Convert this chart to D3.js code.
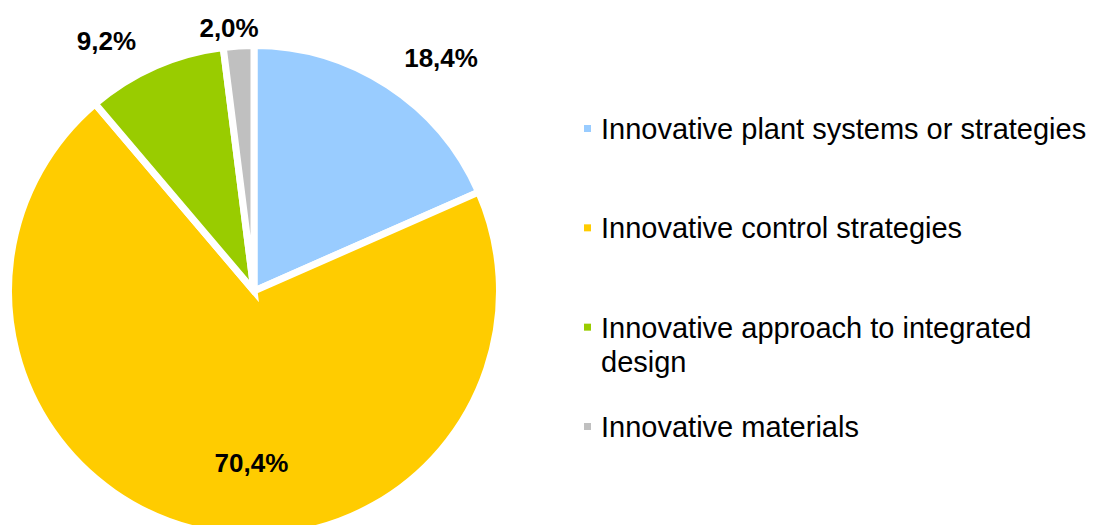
<!DOCTYPE html>
<html>
<head>
<meta charset="utf-8">
<script src="https://cdn.jsdelivr.net/npm/d3@7"></script>
<style>
  html, body { margin: 0; padding: 0; background: #fff; }
  svg { display: block; font-family: Arial, "Liberation Sans", sans-serif; }
</style>
</head>
<body>
<svg id="chart"></svg>
<script>
// Pie chart: share of innovation types

const categories = [
  "Innovative plant systems or strategies",
  "Innovative control strategies",
  "Innovative approach to integrated design",
  "Innovative materials"
];
const values = [18.4, 70.4, 9.2, 2.0];
const valueLabels = ["18,4%", "70,4%", "9,2%", "2,0%"];
const colors = ["#99ccff", "#ffcc00", "#99cc00", "#c0c0c0"];
// legend text split into lines (as wrapped in the original)
const legendLines = [
  ["Innovative plant systems or strategies"],
  ["Innovative control strategies"],
  ["Innovative approach to integrated", "design"],
  ["Innovative materials"]
];

const width = 1095, height = 525;
const cx = 254, cy = 291;
const radius = 245.5;
const gap = 7;

// label placement: distance from centre and angle nudge (deg) from slice mid angle
const labelRadius = [299, 172, 291, 265];
const labelNudge  = [5.6, -12.1, -6.7, -1.8];

const svg = d3.select("#chart")
  .attr("width", width)
  .attr("height", height)
  .attr("viewBox", `0 0 ${width} ${height}`);

const data = categories.map((name, i) => ({
  name, value: values[i], label: valueLabels[i], color: colors[i], i
}));

const pie = d3.pie()
  .sort(null)
  .value(d => d.value);

const arc = d3.arc()
  .innerRadius(0)
  .outerRadius(radius);

const g = svg.append("g")
  .attr("transform", `translate(${cx},${cy})`);

const arcs = pie(data);

g.selectAll("path")
  .data(arcs)
  .join("path")
  .attr("d", arc)
  .attr("fill", d => d.data.color)
  .attr("stroke", "#fff")
  .attr("stroke-width", gap)
  .attr("stroke-linejoin", "miter");

g.selectAll("text.val")
  .data(arcs)
  .join("text")
  .attr("class", "val")
  .attr("text-anchor", "middle")
  .attr("dy", "0.36em")
  .attr("font-size", 26)
  .attr("font-weight", "bold")
  .attr("fill", "#000")
  .attr("transform", d => {
    const a = (d.startAngle + d.endAngle) / 2 + labelNudge[d.data.i] * Math.PI / 180;
    const r = labelRadius[d.data.i];
    return `translate(${r * Math.sin(a)},${-r * Math.cos(a)})`;
  })
  .text(d => d.data.label);

// legend
const legendY = d3.scalePoint()
  .domain(categories)
  .range([139, 437]);
const lineH = 34;

const legend = svg.append("g").attr("class", "legend");

const item = legend.selectAll("g")
  .data(data)
  .join("g")
  .attr("transform", d => `translate(584,${legendY(d.name)})`);

item.append("rect")
  .attr("x", 0)
  .attr("y", -14)
  .attr("width", 7)
  .attr("height", 7)
  .attr("fill", d => d.color);

item.append("text")
  .attr("x", 17)
  .attr("font-size", 29)
  .attr("fill", "#000")
  .selectAll("tspan")
  .data(d => legendLines[d.i])
  .join("tspan")
  .attr("x", 17)
  .attr("y", (d, j) => j * lineH)
  .text(d => d);
</script>
</body>
</html>
